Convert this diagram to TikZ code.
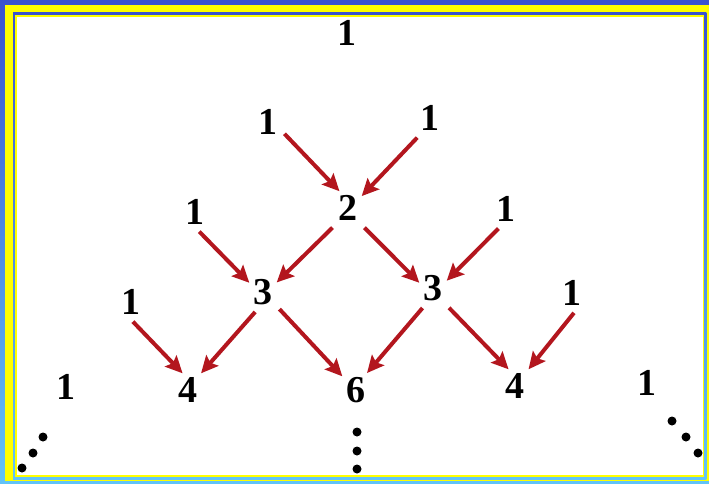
\documentclass[tikz,border=0pt]{standalone}
\usepackage{fontspec}
\setmainfont{Liberation Serif}
\usepackage{xcolor}
\usepackage{tikz}
\usetikzlibrary{arrows.meta}
\definecolor{frameblue}{HTML}{3A52D0}
\definecolor{framesky}{HTML}{62C4F8}
\definecolor{frameyellow}{HTML}{FFFF00}
\definecolor{arrowred}{HTML}{B3161E}
\tikzset{
  num/.style={inner sep=4pt, font=\fontsize{38}{38}\selectfont\bfseries},
  add/.style={-{Stealth[length=17pt,width=16pt,inset=3pt]}, draw=arrowred, line width=4pt, shorten <=4pt},
  dotmark/.style={fill=black},
}

\begin{document}
\begin{tikzpicture}[x=1pt,y=-1pt]
\useasboundingbox (0,0) rectangle (709,484);

% frame
\shade[top color=frameblue, bottom color=framesky] (0,0) rectangle (709,484);
\fill[frameyellow] (5,5) rectangle (709,481);
\shade[top color=frameblue, bottom color=framesky] (13,13) rectangle (706.3,479);
\fill[frameyellow] (15,15) rectangle (704.3,477);
\fill[white] (17,17) rectangle (703,475);

% rows of the triangle
\node[num] (r0)  at (347, 33) {1};
\node[num] (a1)  at (268,122) {1};
\node[num] (a2)  at (430,118) {1};
\node[num] (b2)  at (348,208) {2};
\node[num] (c1)  at (195,212) {1};
\node[num] (c3)  at (506,209) {1};
\node[num] (d3l) at (263,292) {3};
\node[num] (d3r) at (433,288) {3};
\node[num] (e1)  at (131,302) {1};
\node[num] (e5)  at (572,293) {1};
\node[num] (f1l) at ( 66,387) {1};
\node[num] (f4l) at (188,390) {4};
\node[num] (f6)  at (356,390) {6};
\node[num] (f4r) at (515,386) {4};
\node[num] (f1r) at (647,383) {1};

\draw[add] (a1.-33)  -- (b2.117);
\draw[add] (a2.239)  -- (b2.41);
\draw[add] (c1.-85)  -- (d3l.146);
\draw[add] (b2.233)  -- (d3l.35);
\draw[add] (b2.309)  -- (d3r.159);
\draw[add] (c3.254)  -- (d3r.28);
\draw[add] (e1.267)  -- (f4l.108);
\draw[add] (d3l.253) -- (f4l.52);
\draw[add] (d3l.314) -- (f6.135);
\draw[add] (d3r.245) -- (f6.57);
\draw[add] (d3r.308) -- (f4r.111);
\draw[add] (e5.285)  -- (f4r.51);

% continuation dots
\foreach \p in {(22,468),(33,453),(43,437),(357,432),(357,451),(357,469),(672,421),(686,437),(698,453)}
  \fill[dotmark] \p circle[radius=4.5pt];
\end{tikzpicture}
\end{document}
